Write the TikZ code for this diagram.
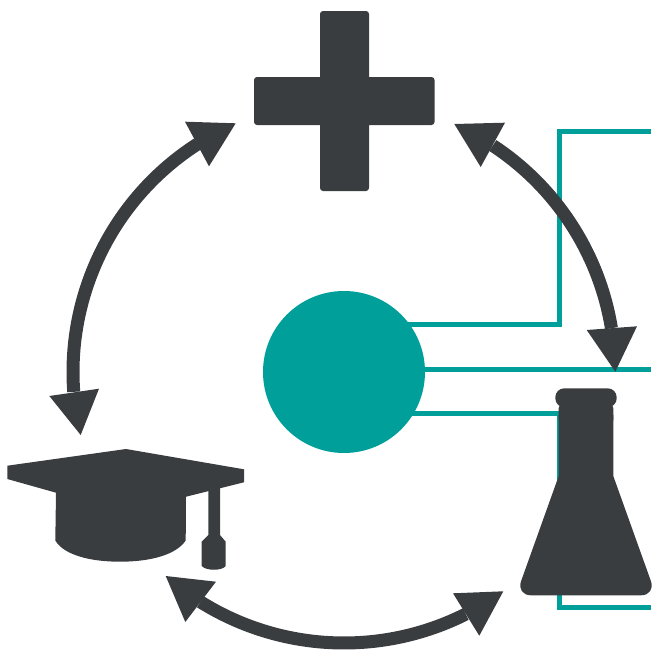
\documentclass[tikz,border=0pt]{standalone}
\definecolor{ink}{HTML}{3A3D40}
\definecolor{teal1}{HTML}{009F9A}
\tikzset{
  wire/.style={draw=teal1,line width=5pt,miter limit=10},
  icon/.style={fill=ink,draw=none},
  ringarc/.style={draw=ink,line width=13pt},
  head/.style={fill=ink,draw=none}
}
\begin{document}
\begin{tikzpicture}[x=1pt,y=-1pt]
\useasboundingbox (0,0) rectangle (651,653);
% hub
\coordinate (hub) at (344,372);
\coordinate (topA) at (405,324.5);
\coordinate (midA) at (420,369.7);
\coordinate (lowA) at (405,413.7);
\coordinate (topE) at (651,131.3);
\coordinate (midE) at (651,369.7);
\coordinate (lowE) at (651,607);
% wires
\draw[wire] (topA) -- (559.7,324.5) -- (559.7,131.3) -- (topE);
\draw[wire] (midA) -- (midE);
\draw[wire] (lowA) -- (559.7,413.7) -- (559.7,607) -- (lowE);
\fill[teal1] (hub) circle[radius=81];
% ring arrows
\draw[ringarc] (hub) ++(237.3:271) arc[start angle=237.3,end angle=175.8,radius=271];
\draw[ringarc] (hub) ++(-56.7:271) arc[start angle=-56.7,end angle=-9.3,radius=271];
\draw[ringarc] (hub) ++(122:271) arc[start angle=122,end angle=63.3,radius=271];
\fill[head] (235.7,123.3) -- (185,121.7) -- (209,166.3) -- cycle;
\fill[head] (80.7,435) -- (49.3,396) -- (99,388.7) -- cycle;
\fill[head] (454.3,124) -- (505,122.7) -- (480.7,167) -- cycle;
\fill[head] (615.3,371.7) -- (586.7,330) -- (637,326.3) -- cycle;
\fill[head] (165.7,576) -- (216,581.7) -- (185.3,622) -- cycle;
\fill[head] (503.3,591.3) -- (453,593.3) -- (479.3,635.7) -- cycle;
% plus
\fill[icon] (323,11) -- (366,11) arc[start angle=-90,end angle=0,radius=3] -- (369,77) -- (431.5,77) arc[start angle=-90,end angle=0,radius=3] -- (434.5,122) arc[start angle=0,end angle=90,radius=3] -- (369,125) -- (369,188) arc[start angle=0,end angle=90,radius=3] -- (323,191) arc[start angle=90,end angle=180,radius=3] -- (320,125) -- (257,125) arc[start angle=90,end angle=180,radius=3] -- (254,80) arc[start angle=180,end angle=270,radius=3] -- (320,77) -- (320,14) arc[start angle=180,end angle=270,radius=3] -- cycle;
% flask
\fill[icon,rounded corners=9pt] (555.3,388.3) rectangle (616.7,407.3);
\fill[icon,rounded corners=5pt] (558.7,425) -- (558.7,403) -- (613.3,403) -- (613.3,425) -- cycle;
\fill[icon] (558.7,476) -- (558.7,415) -- (613.3,415) -- (613.3,476) [rounded corners=15pt] -- (656,595.3) -- (516,595.3) [sharp corners] -- cycle;
% cap
\fill[icon] (7.3,465.7) -- (126,449) -- (244,469.3) -- (244,482.3) -- (186,496.7) -- (185.7,540.5)
  .. controls (176,555) and (150,561.7) .. (120,561.7)
  .. controls (90,561.7) and (64,555) .. (55.3,540.5)
  -- (56,492.7) -- (7.3,479) -- cycle;
\fill[icon] (208.3,485) -- (220,485) -- (220,535) -- (225.7,541.7) -- (225.7,566)
  .. controls (222,571) and (206,571) .. (201.7,566)
  -- (201.7,541.7) -- (208.3,535) -- cycle;
\end{tikzpicture}
\end{document}
